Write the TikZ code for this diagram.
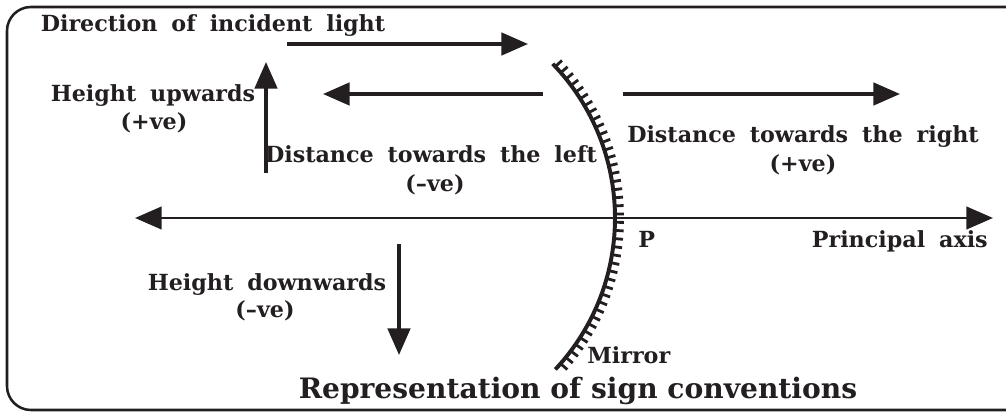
\documentclass[tikz,border=0pt]{standalone}
\usepackage{fontspec}
\setmainfont[WordSpace=1.8]{DejaVu Serif}
\newfontfamily\titlefont{DejaVu Serif}
\usetikzlibrary{arrows.meta}
\definecolor{ink}{HTML}{231F20}
\begin{document}
\begin{tikzpicture}[x=0.025cm, y=-0.025cm, inner sep=0pt,
    lbl/.style={anchor=base, font=\bfseries\fontsize{15.8}{19}\selectfont, text=ink},
    arr/.style={draw=ink, line width=2.4pt, -{Triangle[length=19pt,width=16pt]}}]
   \useasboundingbox (0,0) rectangle (1006,412);
   \clip (0,0) rectangle (1006,412);
   \draw[ink, line width=1.8pt, rounded corners=17pt] (7,7) rectangle (1030,410);
   % labels
   \node[lbl] (dir) at (213,32) {Direction of incident light};
   \node[lbl] (hup) at (153,102) {Height upwards};
   \node[lbl] (hupv) at (154,130) {(+ve)};
   \node[lbl] (dleft) at (431,163) {Distance towards the left};
   \node[lbl] (dleftv) at (435,192) {(\textendash ve)};
   \node[lbl] (dright) at (803,143) {Distance towards the right};
   \node[lbl] (drightv) at (803,172) {(+ve)};
   \node[lbl, anchor=base west] (P) at (638,248) {P};
   \node[lbl, anchor=base east] (pax) at (988,248) {Principal axis};
   \node[lbl] (hdown) at (267,290) {Height downwards};
   \node[lbl] (hdownv) at (265,318) {(\textendash ve)};
   \node[lbl, anchor=base west] (mir) at (587,363) {Mirror};
   \node[lbl, font=\titlefont\bfseries\fontsize{20}{24}\selectfont] (title) at (578,398) {Representation of sign conventions};
   % arrow ends
   \coordinate (i1) at (287,44);   \coordinate (i2) at (528,44);
   \coordinate (u1) at (266,173);  \coordinate (u2) at (266,62);
   \coordinate (l1) at (543,94);   \coordinate (l2) at (323,94);
   \coordinate (r1) at (623,94);   \coordinate (r2) at (900,94);
   \coordinate (d1) at (399,244);  \coordinate (d2) at (399,355);
   \coordinate (a1) at (135,218);  \coordinate (a2) at (993,218);
   \draw[arr] (i1) -- (i2);
   \draw[arr] (u1) -- (u2);
   \draw[arr] (l1) -- (l2);
   \draw[arr] (r1) -- (r2);
   \draw[arr] (d1) -- (d2);
   \draw[arr, line width=2.1pt, {Triangle[length=19pt,width=16pt]}-{Triangle[length=19pt,width=16pt]}] (a1) -- (a2);
   % mirror
   \coordinate (C) at (393,218);
   \draw[ink, line width=2.8pt] (C) ++(-44:222) arc[start angle=-44, end angle=43, radius=222];
   \foreach \a in {-43,-40.9,...,42}
      \draw[ink, line width=2pt] (C) ++(\a:221) -- ++(\a:10);
\end{tikzpicture}
\end{document}
